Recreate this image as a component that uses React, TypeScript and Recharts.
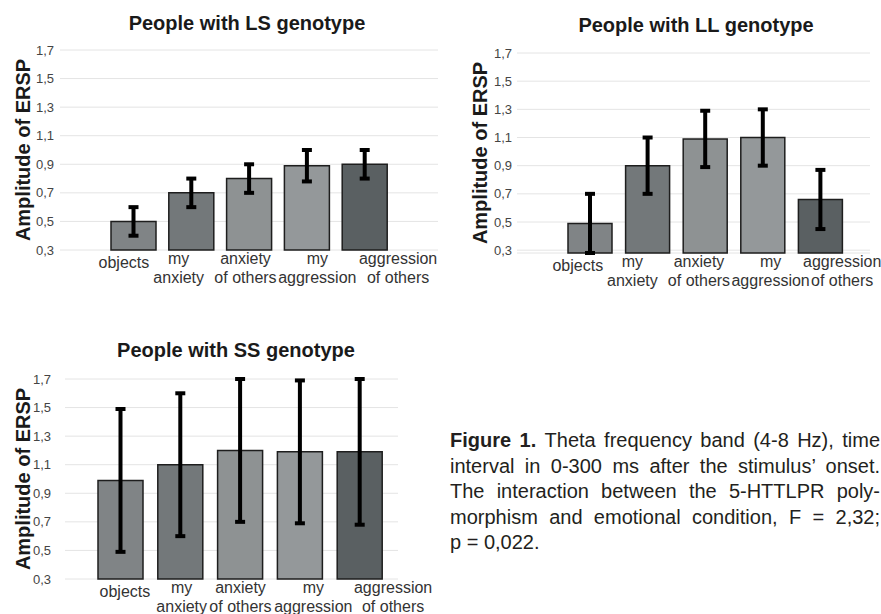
import { BarChart, Bar, XAxis, YAxis, CartesianGrid, ErrorBar, Cell } from "recharts"

const conditions = ["objects", "my anxiety", "anxiety of others", "my aggression", "aggression of others"]
const tickLines = [["objects"], ["my", "anxiety"], ["anxiety", "of others"], ["my", "aggression"], ["aggression", "of others"]]
const yTicks = [0.3, 0.5, 0.7, 0.9, 1.1, 1.3, 1.5, 1.7]

// mean amplitude of ERSP and its error, per genotype
const lsAmplitude = [0.5, 0.7, 0.8, 0.89, 0.9]
const lsError = [0.1, 0.1, 0.1, 0.11, 0.1]
const llAmplitude = [0.49, 0.9, 1.09, 1.1, 0.66]
const llError = [0.21, 0.2, 0.2, 0.2, 0.21]
const ssAmplitude = [0.99, 1.1, 1.2, 1.19, 1.19]
const ssError = [0.5, 0.5, 0.5, 0.5, 0.51]

const barColors = ["#808486", "#73787a", "#8e9293", "#94989a", "#5a6062"]
const font = "'Liberation Sans', Arial, sans-serif"

const toRows = (values: number[], errors: number[]) =>
  conditions.map((name, i) => ({ name, value: values[i], err: errors[i] }))

const fmt = (v: number) => v.toFixed(1).replace(".", ",")

function CategoryTick(props: any) {
  const { x, y, payload, shift } = props
  const i = conditions.indexOf(payload.value)
  const lines = tickLines[i] || [payload.value]
  const cx = x + (shift?.[i] || 0)
  return (
    <text x={cx} y={y} textAnchor="middle" fill="#333" fontSize={16} fontFamily={font}>
      {lines.map((line, k) => (
        <tspan key={k} x={cx} dy={lines.length === 1 ? 18 : k === 0 ? 14 : 19}>
          {line}
        </tspan>
      ))}
    </text>
  )
}

function AxisTitle(props: any) {
  const { viewBox, gap } = props
  const cx = viewBox.x + viewBox.width - gap
  const cy = viewBox.y + viewBox.height / 2
  return (
    <text
      x={cx}
      y={cy}
      transform={`rotate(-90 ${cx} ${cy})`}
      textAnchor="middle"
      dominantBaseline="central"
      fontSize={20}
      fontWeight="bold"
      fill="#1a1a1a"
      fontFamily={font}
    >
      Amplitude of ERSP
    </text>
  )
}

function Panel(props: any) {
  const {
    title, values, errors, left, top, width, height, axisWidth, marginTop, marginRight,
    xAxisHeight, padLeft, padRight, barSize, tickGap, titleGap, shift, titleX, titleY,
  } = props
  return (
    <>
      <div
        style={{
          position: "absolute",
          left: titleX - 150,
          top: titleY - 12,
          width: 300,
          textAlign: "center",
          fontFamily: font,
          fontWeight: "bold",
          fontSize: 20,
          lineHeight: "24px",
          color: "#1a1a1a",
        }}
      >
        {title}
      </div>
      <div style={{ position: "absolute", left, top }}>
        <BarChart
          width={width}
          height={height}
          data={toRows(values, errors)}
          margin={{ top: marginTop, right: marginRight, bottom: 0, left: 0 }}
        >
          <CartesianGrid vertical={false} stroke="#e4e4e4" />
          <XAxis
            dataKey="name"
            height={xAxisHeight}
            axisLine={false}
            tickLine={false}
            tickSize={0}
            tickMargin={0}
            interval={0}
            padding={{ left: padLeft, right: padRight }}
            tick={<CategoryTick shift={shift} />}
          />
          <YAxis
            type="number"
            domain={[0.3, 1.7]}
            ticks={yTicks}
            width={axisWidth}
            axisLine={false}
            tickLine={false}
            tickSize={0}
            tickMargin={tickGap}
            tickFormatter={fmt}
            tick={{ fill: "#444", fontSize: 13, fontFamily: font }}
            label={<AxisTitle gap={titleGap} />}
          />
          <Bar dataKey="value" barSize={barSize} stroke="#1e1e1e" strokeWidth={1.5} isAnimationActive={false}>
            {barColors.map((c, i) => (
              <Cell key={i} fill={c} />
            ))}
            <ErrorBar dataKey="err" width={5} stroke="#000" strokeWidth={4} isAnimationActive={false} />
          </Bar>
        </BarChart>
      </div>
    </>
  )
}

const captionLines = [
  "Theta frequency band (4-8 Hz), time",
  "interval in 0-300 ms after the stimulus\u2019 onset.",
  "The interaction between the 5-HTTLPR poly-",
  "morphism and emotional condition, F = 2,32;",
  "p = 0,022.",
]

export default function App() {
  const justified = { textAlign: "justify" as const, textAlignLast: "justify" as const }
  return (
    <div style={{ position: "absolute", left: 0, top: 0, width: 881, height: 614, background: "#fff", overflow: "hidden" }}>
      <Panel
        title="People with LS genotype"
        values={lsAmplitude}
        errors={lsError}
        left={0}
        top={0}
        width={440}
        height={300}
        axisWidth={60}
        marginTop={50}
        marginRight={2}
        xAxisHeight={50}
        padLeft={45}
        padRight={44}
        barSize={45}
        tickGap={6}
        titleGap={37}
        shift={[-10, -13, -4, 10, 33]}
        titleX={247}
        titleY={23}
      />
      <Panel
        title="People with LL genotype"
        values={llAmplitude}
        errors={llError}
        left={440}
        top={0}
        width={441}
        height={310}
        axisWidth={77}
        marginTop={53}
        marginRight={11}
        xAxisHeight={57}
        padLeft={44}
        padRight={21}
        barSize={44}
        tickGap={5}
        titleGap={37}
        shift={[-12, -15, -6, 8, 22]}
        titleX={696}
        titleY={25}
      />
      <Panel
        title="People with SS genotype"
        values={ssAmplitude}
        errors={ssError}
        left={0}
        top={330}
        width={440}
        height={284}
        axisWidth={65}
        marginTop={49}
        marginRight={42}
        xAxisHeight={35}
        padLeft={26}
        padRight={8}
        barSize={45}
        tickGap={14}
        titleGap={42}
        shift={[4, 1, 0, 13, 33]}
        titleX={236}
        titleY={350}
      />
      <div
        style={{
          position: "absolute",
          left: 450,
          top: 428,
          width: 430,
          fontFamily: font,
          fontSize: 20,
          lineHeight: "25.5px",
          color: "#231f20",
        }}
      >
        {captionLines.map((line, i) => (
          <div key={i} style={i < captionLines.length - 1 ? justified : undefined}>
            {i === 0 && <b>Figure 1. </b>}
            {line}
          </div>
        ))}
      </div>
    </div>
  )
}
